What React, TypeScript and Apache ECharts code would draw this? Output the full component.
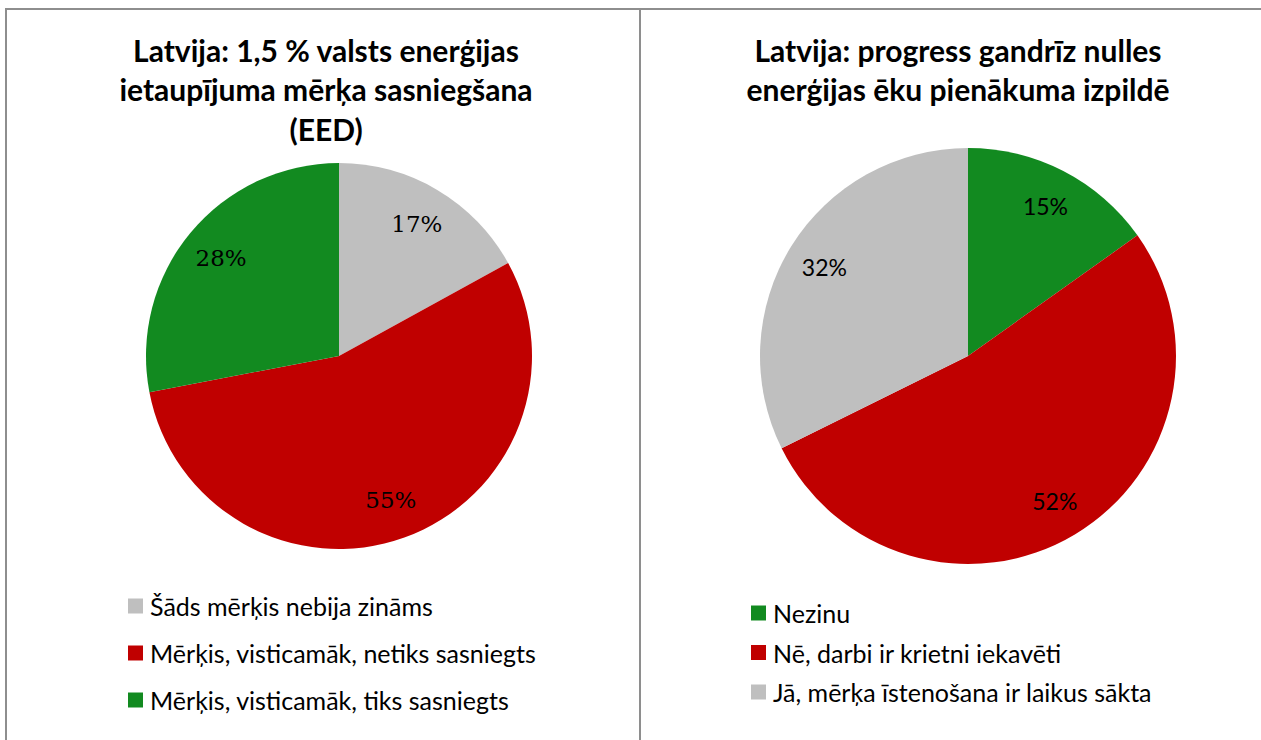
import React, { useEffect, useRef } from "react";
import * as echarts from "echarts";

const leftTitle = "Latvija: 1,5 % valsts enerģijas\nietaupījuma mērķa sasniegšana\n(EED)";
const rightTitle = "Latvija: progress gandrīz nulles\nenerģijas ēku pienākuma izpildē";

const leftNames = [
  "Šāds mērķis nebija zināms",
  "Mērķis, visticamāk, netiks sasniegts",
  "Mērķis, visticamāk, tiks sasniegts",
];
const leftValues = [17, 55, 28];
const leftColors = ["#BFBFBF", "#C00000", "#128A20"];

const rightNames = ["Nezinu", "Nē, darbi ir krietni iekavēti", "Jā, mērķa īstenošana ir laikus sākta"];
const rightValues = [15, 52, 32];
const rightColors = ["#128A20", "#C00000", "#BFBFBF"];

const SANS = "Lato, 'Open Sans', sans-serif";

export default function App() {
  const ref = useRef<HTMLDivElement>(null);
  useEffect(() => {
    document.body.style.margin = "0";
    const chart = echarts.init(ref.current!, null, { renderer: "svg" });
    const mk = (names: string[], vals: number[], colors: string[]) =>
      names.map((n, i) => ({ name: n, value: vals[i], itemStyle: { color: colors[i] } }));
    const leftData = mk(leftNames, leftValues, leftColors);
    const rightData = mk(rightNames, rightValues, rightColors);
    const base = {
      type: "pie",
      startAngle: 90,
      clockwise: true,
      avoidLabelOverlap: false,
      labelLine: { show: false },
    };
    const titleStyle = { fontFamily: SANS, fontWeight: "bold", fontSize: 30, lineHeight: 39.5, color: "#000" };
    const legendText = { fontFamily: SANS, fontSize: 25, lineHeight: 25, color: "#000", padding: [0, 0, 0, 2] };
    chart.setOption({
      animation: false,
      backgroundColor: "#ffffff",
      title: [
        { text: leftTitle, left: 326, top: 30, padding: 0, textAlign: "center", textStyle: titleStyle },
        { text: rightTitle, left: 958, top: 30, padding: 0, textAlign: "center", textStyle: titleStyle },
      ],
      legend: [
        {
          data: leftNames,
          orient: "vertical",
          left: 128,
          top: 593.5,
          padding: 0,
          itemWidth: 15,
          itemHeight: 15,
          itemGap: 22,
          icon: "rect",
          selectedMode: false,
          textStyle: legendText,
        },
        {
          data: rightNames,
          orient: "vertical",
          left: 751,
          top: 600.5,
          padding: 0,
          itemWidth: 15,
          itemHeight: 15,
          itemGap: 14.5,
          icon: "rect",
          selectedMode: false,
          textStyle: legendText,
        },
      ],
      series: [
        { ...base, name: "L", center: [339, 356], radius: [0, 193], data: leftData, label: { show: false } },
        {
          ...base,
          name: "Llab",
          center: [339, 356],
          radius: [107, 193],
          silent: true,
          data: leftData.map((d) => ({ ...d, itemStyle: { color: "rgba(0,0,0,0)" } })),
          label: {
            show: true,
            position: "inside",
            formatter: "{c}%",
            fontFamily: "'DejaVu Serif', serif",
            fontSize: 23,
            color: "#000",
          },
        },
        { ...base, name: "R", center: [968, 356], radius: [0, 208], data: rightData, label: { show: false } },
        {
          ...base,
          name: "Rlab",
          center: [968, 356],
          radius: [124, 208],
          silent: true,
          data: rightData.map((d) => ({ ...d, itemStyle: { color: "rgba(0,0,0,0)" } })),
          label: {
            show: true,
            position: "inside",
            formatter: "{c}%",
            fontFamily: SANS,
            fontSize: 23,
            color: "#000",
          },
        },
      ],
      graphic: [
        { type: "line", shape: { x1: 6, y1: 9, x2: 1261, y2: 9 }, style: { stroke: "#8E8E8E", lineWidth: 2 } },
        { type: "line", shape: { x1: 6, y1: 8, x2: 6, y2: 740 }, style: { stroke: "#8E8E8E", lineWidth: 2 } },
        { type: "line", shape: { x1: 640, y1: 8, x2: 640, y2: 740 }, style: { stroke: "#8E8E8E", lineWidth: 2 } },
      ],
    });
    return () => chart.dispose();
  }, []);
  return <div ref={ref} style={{ width: 1261, height: 740 }} />;
}
